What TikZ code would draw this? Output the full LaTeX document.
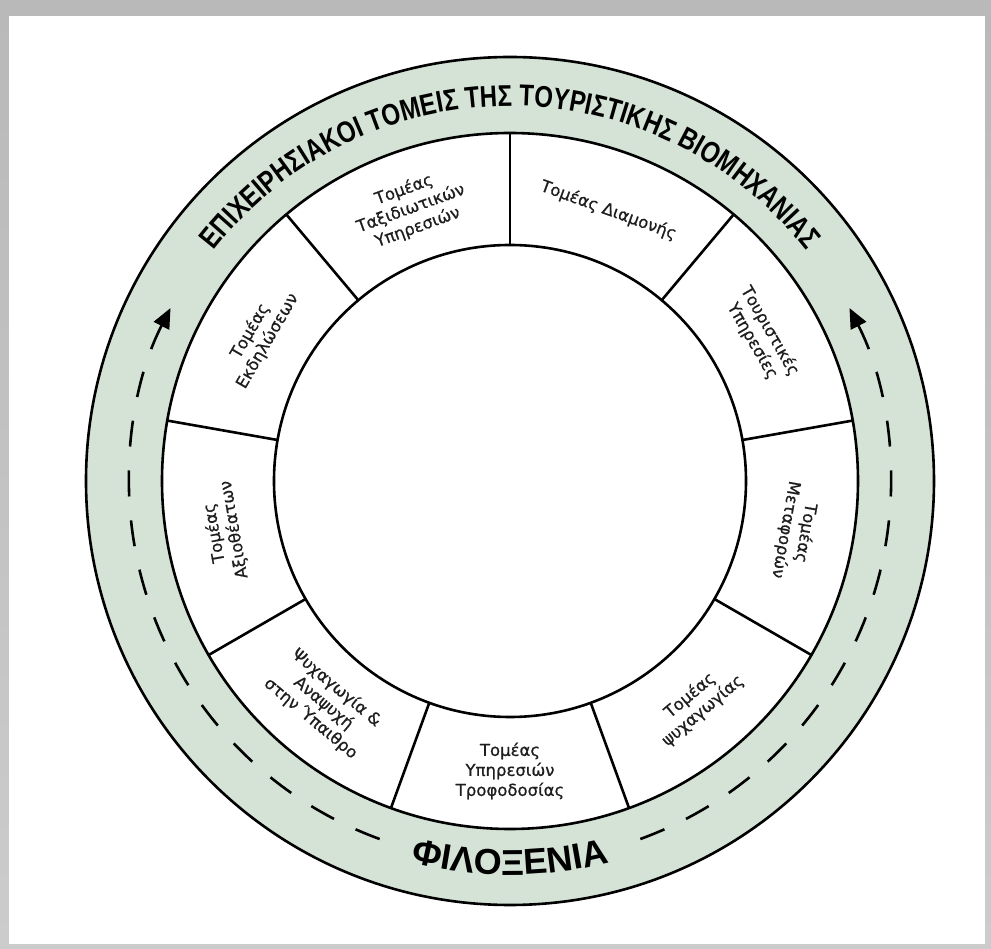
\documentclass[tikz,border=0pt]{standalone}
\usepackage{fontspec}
\setmainfont{DejaVu Sans}
\newfontfamily\sectorfont[FakeBold=0.7]{DejaVu Sans}
\newfontfamily\ringfont[FakeStretch=0.8]{Liberation Sans}
\newfontfamily\hostfont{Liberation Sans}
\usetikzlibrary{decorations.text,arrows.meta}

\definecolor{ringgreen}{RGB}{212,227,214}
\definecolor{labelgray}{RGB}{30,30,30}

\begin{document}
\begin{tikzpicture}[x=1pt, y=1pt,
    sector/.style={align=center, font=\sectorfont\fontsize{16.5}{20}\selectfont, text=labelgray, inner sep=0pt},
    border/.style={line width=2.6pt, black},
    route/.style={line width=2.6pt, dash pattern=on 26pt off 24pt, -{Triangle[length=20pt, width=17pt]}}]

    % frame with shadow
    \useasboundingbox (-510,-468) rectangle (481,481);
    \shade[top color=gray!55, bottom color=gray!40] (-510,-468) rectangle (481,481);
    \fill[white] (-501,-463) rectangle (475,465);

    % rings
    \coordinate (hub) at (0,0);
    \fill[ringgreen] (hub) circle (424);
    \draw[border] (hub) circle (424);
    \fill[white] (hub) circle (348);
    \draw[border] (hub) circle (348);
    \draw[border] (hub) circle (236);
    \foreach \a in {10,50,...,330}
        \draw[border] (\a:236) -- (\a:348);

    % the nine sectors
    \node[sector, rotate=20] (travel) at (110:290) {Τομέας\\Ταξιδιωτικών\\Υπηρεσιών};
    \node[sector, rotate=-20] (stay) at (70:288) {Τομέας Διαμονής};
    \node[sector, rotate=-60] (services) at (30:290) {Τουριστικές\\Υπηρεσίες};
    \node[sector, rotate=-100] (transport) at (-10:290) {Τομέας\\Μεταφορών};
    \node[sector, rotate=40] (fun) at (-50:290) {Τομέας\\ψυχαγωγίας};
    \node[sector] (food) at (-90:290) {Τομέας\\Υπηρεσιών\\Τροφοδοσίας};
    \node[sector, rotate=-40] (outdoor) at (-130:290) {Ψυχαγωγία \&\\Αναψυχή\\στην Ύπαιθρο};
    \node[sector, rotate=100] (sights) at (190:290) {Τομέας\\Αξιοθέατων};
    \node[sector, rotate=60] (events) at (150:290) {Τομέας\\Εκδηλώσεων};

    % ring titles
    \path[decorate, decoration={text along path, text align=center,
        text={|\color{black}\ringfont\bfseries\fontsize{30}{30}\selectfont|ΕΠΙΧΕΙΡΗΣΙΑΚΟΙ ΤΟΜΕΙΣ ΤΗΣ ΤΟΥΡΙΣΤΙΚΗΣ ΒΙΟΜΗΧΑΝΙΑΣ}}]
        (150:375) arc[start angle=150, end angle=30, radius=375];
    \path[decorate, decoration={text along path, text align=center,
        text={|\color{black}\hostfont\bfseries\fontsize{36}{36}\selectfont|ΦΙΛΟΞΕΝΙΑ}}]
        (-120:394) arc[start angle=-120, end angle=-60, radius=394];

    % dashed route up both sides
    \draw[route] (-110:381) arc[start angle=-110, end angle=-207, radius=381];
    \draw[route] (-70:381) arc[start angle=-70, end angle=27, radius=381];
\end{tikzpicture}
\end{document}
